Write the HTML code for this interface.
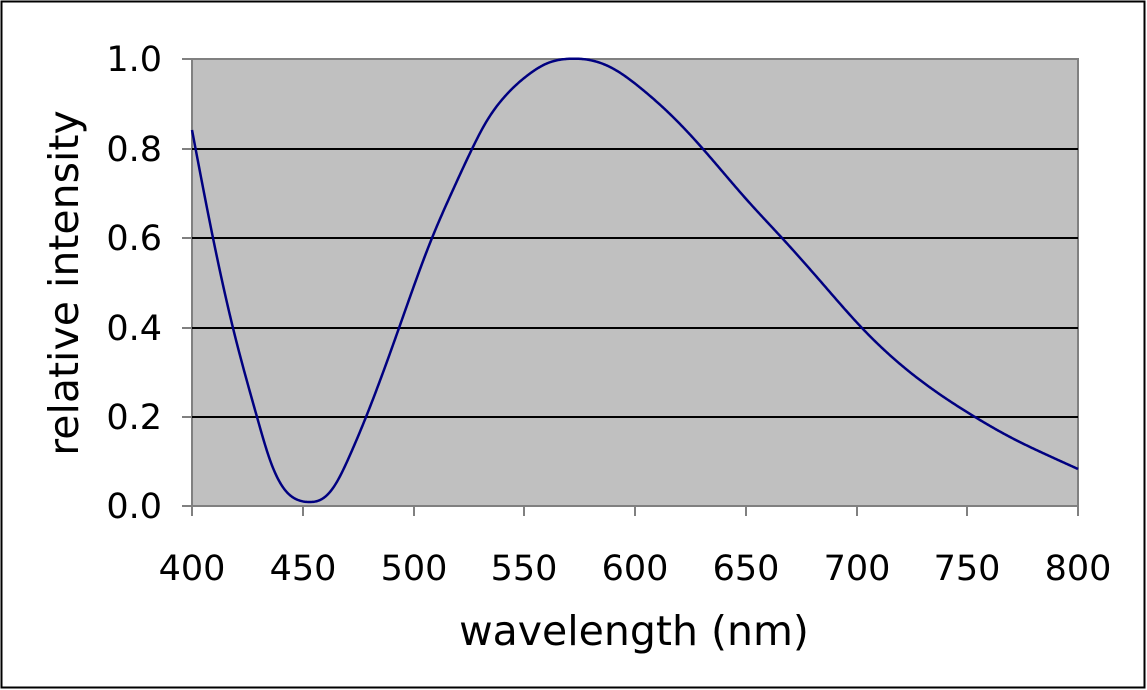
<!DOCTYPE html><html><head><style>body{margin:0;background:#fff}svg{display:block}</style></head><body>
<svg id="s" width="1147" height="690" xmlns="http://www.w3.org/2000/svg" font-family="'DejaVu Sans','Liberation Sans',sans-serif">
<rect x="1.5" y="1.5" width="1143" height="686" fill="#fff" stroke="#000" stroke-width="2"/>
<rect x="192" y="59" width="886" height="447" fill="#c0c0c0" stroke="#808080" stroke-width="2"/>
<g stroke="#000" stroke-width="2">
<line x1="192" y1="149" x2="1078" y2="149"/><line x1="192" y1="238" x2="1078" y2="238"/>
<line x1="192" y1="328" x2="1078" y2="328"/><line x1="192" y1="417" x2="1078" y2="417"/>
</g>
<g stroke="#808080" stroke-width="2">
<line x1="182" y1="59" x2="192" y2="59"/><line x1="182" y1="149" x2="192" y2="149"/><line x1="182" y1="238" x2="192" y2="238"/><line x1="182" y1="328" x2="192" y2="328"/><line x1="182" y1="417" x2="192" y2="417"/><line x1="182" y1="506" x2="192" y2="506"/>
<line x1="192" y1="506" x2="192" y2="516"/><line x1="303" y1="506" x2="303" y2="516"/><line x1="414" y1="506" x2="414" y2="516"/><line x1="524" y1="506" x2="524" y2="516"/><line x1="635" y1="506" x2="635" y2="516"/><line x1="746" y1="506" x2="746" y2="516"/><line x1="857" y1="506" x2="857" y2="516"/><line x1="967" y1="506" x2="967" y2="516"/><line x1="1078" y1="506" x2="1078" y2="516"/>
</g>
<path id="c" fill="none" stroke="#000080" stroke-width="2.5" stroke-linejoin="round"/>
<g font-size="35" text-anchor="end" fill="#000">
<text x="162" y="71">1.0</text><text x="162" y="161">0.8</text><text x="162" y="250">0.6</text><text x="162" y="340">0.4</text><text x="162" y="429">0.2</text><text x="162" y="518">0.0</text>
</g>
<g font-size="35" text-anchor="middle" fill="#000">
<text x="192" y="580">400</text><text x="303" y="580">450</text><text x="414" y="580">500</text><text x="524" y="580">550</text><text x="635" y="580">600</text><text x="746" y="580">650</text><text x="857" y="580">700</text><text x="967" y="580">750</text><text x="1078" y="580">800</text>
<text x="634" y="645" font-size="41">wavelength (nm)</text>
<text transform="translate(78,283) rotate(-90)" font-size="41">relative intensity</text>
</g>
</svg>
<script>
var p=[[192,130],[213,238],[233,328],[257,417],[270,460],[285,490],[298,500],[310,502],[322,499],[335,485],[350,455],[366,417],[399,328],[432,238],[452,192],[472,149],[485,124],[508,93],[528,75],[548,63],[566,59],[575,58.7],[585,59.3],[610,67],[643,90],[673,117],[703,149],[747,200],[782,238],[822,283],[862,328],[900,364],[935,391],[975,417],[1010,437],[1045,454],[1078,469]];
var n=p.length,x=p.map(function(q){return q[0]}),y=p.map(function(q){return q[1]});
var h=[],al=[],l=[1],mu=[0],z=[0],c=new Array(n).fill(0),b=[],dd=[];
for(var i=0;i<n-1;i++)h[i]=x[i+1]-x[i];
for(i=1;i<n-1;i++)al[i]=3/h[i]*(y[i+1]-y[i])-3/h[i-1]*(y[i]-y[i-1]);
for(i=1;i<n-1;i++){l[i]=2*(x[i+1]-x[i-1])-h[i-1]*mu[i-1];mu[i]=h[i]/l[i];z[i]=(al[i]-h[i-1]*z[i-1])/l[i];}
l[n-1]=1;z[n-1]=0;c[n-1]=0;
for(var j=n-2;j>=0;j--){c[j]=z[j]-mu[j]*c[j+1];b[j]=(y[j+1]-y[j])/h[j]-h[j]*(c[j+1]+2*c[j])/3;dd[j]=(c[j+1]-c[j])/(3*h[j]);}
var d="M"+x[0]+","+y[0];
for(i=0;i<n-1;i++){for(var t=1;t<=h[i];t+=1){d+=" L"+(x[i]+t)+","+(y[i]+b[i]*t+c[i]*t*t+dd[i]*t*t*t).toFixed(2);}}
document.getElementById("c").setAttribute("d",d);
</script>
</body></html>
